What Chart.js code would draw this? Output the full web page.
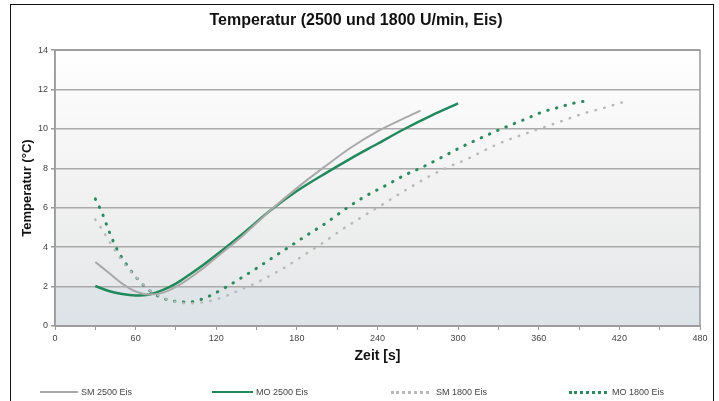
<!DOCTYPE html>
<html>
<head>
<meta charset="utf-8">
<script src="https://cdn.jsdelivr.net/npm/chart.js@4.4.1/dist/chart.umd.min.js"></script>
<style>
  html, body { margin: 0; padding: 0; background: #fff; }
  #wrap { position: relative; width: 719px; height: 401px; overflow: hidden; }
  canvas { position: absolute; left: 0; top: 0; }
  .lg { position: absolute; top: 386px; height: 12px; font: 9px 'Liberation Sans Narrow','Arial Narrow','Liberation Sans',Arial,sans-serif; color: #444; white-space: nowrap; }
  .lg .s { position: absolute; top: 6px; }
  .lg .t { position: absolute; top: 0; line-height: 12px; }
</style>
</head>
<body>
<div id="wrap">
  <canvas id="c" width="719" height="401"></canvas>
  <div id="legend"></div>
</div>
<script>
// ---- data ----
const seriesNames = ['SM 2500 Eis', 'MO 2500 Eis', 'SM 1800 Eis', 'MO 1800 Eis'];

const sm2500Time = [30,40,50,60,70,80,90,100,110,120,140,160,180,200,220,240,260,272];
const sm2500Temp = [3.25,2.7,2.15,1.75,1.6,1.68,1.98,2.42,2.92,3.48,4.6,5.85,7.0,8.05,9.05,9.88,10.55,10.93];

const mo2500Time = [30,40,50,60,70,80,90,100,110,120,140,160,180,200,220,240,260,280,300];
const mo2500Temp = [2.03,1.78,1.62,1.55,1.6,1.82,2.15,2.6,3.08,3.6,4.7,5.85,6.85,7.7,8.5,9.25,10.0,10.68,11.3];

const sm1800Time = [30,35,40,45,50,60,70,80,90,100,110,120,130,140,150,160,170,188,200,213,230,243,267,280,293,306,314,330,354,375,395,410,422];
const sm1800Temp = [5.4,4.9,4.35,3.8,3.3,2.5,1.85,1.45,1.22,1.15,1.2,1.35,1.6,1.9,2.2,2.55,2.93,3.72,4.25,4.87,5.6,6.14,7.15,7.65,8.08,8.45,8.72,9.25,9.86,10.35,10.82,11.1,11.35];

const mo1800Time = [30,35,40,45,50,55,60,70,80,90,100,110,120,130,140,150,160,175,190,200,217,230,248,260,273,288,300,310,334,350,363,375,387,395];
const mo1800Temp = [6.45,5.75,4.85,4.05,3.45,2.95,2.5,1.82,1.42,1.25,1.22,1.38,1.7,2.08,2.5,2.93,3.38,4.05,4.72,5.15,5.98,6.55,7.2,7.65,8.05,8.57,9.0,9.33,10.06,10.5,10.87,11.1,11.33,11.42];

const xTickValues = [0,60,120,180,240,300,360,420,480];
const yTickValues = [0,2,4,6,8,10,12,14];

// ---- styles ----
const styles = [
  { color: '#a9a9a9', width: 2, dash: [] },
  { color: '#22895c', width: 2.5, dash: [] },
  { color: '#b8b8b8', width: 2.5, dash: [0.5, 8.5] },
  { color: '#2b8a60', width: 3, dash: [0.5, 8.5] }
];

function pts(t, v) { return t.map((x, i) => ({ x: x, y: v[i] })); }
const allData = [pts(sm2500Time, sm2500Temp), pts(mo2500Time, mo2500Temp), pts(sm1800Time, sm1800Temp), pts(mo1800Time, mo1800Temp)];

const datasets = allData.map((d, i) => ({
  label: seriesNames[i],
  data: d,
  borderColor: styles[i].color,
  borderWidth: styles[i].width,
  borderDash: styles[i].dash,
  borderCapStyle: styles[i].dash.length ? 'round' : 'butt',
  pointRadius: 0,
  fill: false,
  cubicInterpolationMode: 'monotone'
}));

const bgPlugin = {
  id: 'bg',
  beforeDraw(chart) {
    const { ctx, chartArea: a } = chart;
    ctx.save();
    const g = ctx.createLinearGradient(0, a.top, 0, a.bottom);
    g.addColorStop(0, '#ffffff');
    g.addColorStop(0.45, '#f3f3f3');
    g.addColorStop(0.855, '#e8e9ea');
    g.addColorStop(0.858, '#e0e5e9');
    g.addColorStop(1, '#dde3e8');
    ctx.fillStyle = g;
    ctx.fillRect(a.left, a.top, a.right - a.left, a.bottom - a.top);
    ctx.restore();
  },
  afterDraw(chart) {
    const { ctx, chartArea: a } = chart;
    ctx.save();
    ctx.strokeStyle = '#9a9a9a';
    ctx.lineWidth = 1.5;
    ctx.strokeRect(a.left, a.top, a.right - a.left, a.bottom - a.top);
    ctx.strokeStyle = '#111';
    ctx.lineWidth = 1;
    ctx.strokeRect(10.5, 4.5, 703, 430);
    ctx.restore();
  }
};

const narrow = "'Liberation Sans Narrow','Arial Narrow','Liberation Sans',Arial,sans-serif";

new Chart(document.getElementById('c'), {
  type: 'line',
  data: { datasets: datasets },
  plugins: [bgPlugin],
  options: {
    responsive: false,
    animation: false,
    layout: { padding: { left: 12, right: 19, top: 0, bottom: 30 } },
    plugins: {
      legend: { display: false },
      tooltip: { enabled: false },
      title: {
        display: true,
        text: 'Temperatur (2500 und 1800 U/min, Eis)',
        color: '#111',
        font: { family: narrow, size: 16, weight: 'bold' },
        padding: { top: 11, bottom: 20 }
      }
    },
    scales: {
      x: {
        type: 'linear',
        min: 0, max: 480,
        afterBuildTicks(s) { s.ticks = []; for (let v = 0; v <= 480; v += 30) s.ticks.push({ value: v }); },
        afterFit(s) { s.height = 45; },
        ticks: {
          stepSize: 30,
          autoSkip: false,
          maxRotation: 0,
          padding: 3,
          color: '#444',
          font: { family: narrow, size: 9 },
          callback: (v) => xTickValues.includes(v) ? String(v) : ''
        },
        grid: { drawOnChartArea: false, drawTicks: true, tickLength: 4, tickColor: '#999', lineWidth: 1 },
        border: { display: true, color: '#9a9a9a', width: 1.5 },
        title: {
          display: true, text: 'Zeit [s]', color: '#111',
          font: { family: narrow, size: 14, weight: 'bold' },
          padding: { top: 0, bottom: 6 }
        }
      },
      y: {
        type: 'linear',
        min: 0, max: 14,
        afterBuildTicks(s) { s.ticks = yTickValues.map(v => ({ value: v })); },
        afterFit(s) { s.width = 43; },
        ticks: {
          stepSize: 2,
          padding: 3,
          color: '#444',
          font: { family: narrow, size: 9 }
        },
        grid: { color: '#aaaaaa', lineWidth: 1.5, drawTicks: true, tickLength: 4, tickColor: '#999' },
        border: { display: true, color: '#9a9a9a', width: 1.5 },
        title: {
          display: true, text: 'Temperatur (°C)', color: '#111',
          font: { family: narrow, size: 13, weight: 'bold' },
          padding: { top: 8, bottom: 0 }
        }
      }
    }
  }
});

// ---- HTML legend ----
const legendPos = [
  { sx: 40, sw: 38, tx: 81 },
  { sx: 212, sw: 41, tx: 256 },
  { sx: 391, sw: 38, tx: 436 },
  { sx: 569, sw: 38, tx: 612 }
];
const lg = document.getElementById('legend');
seriesNames.forEach((name, i) => {
  const st = styles[i];
  const p = legendPos[i];
  const item = document.createElement('div');
  item.className = 'lg';
  item.style.left = '0px';
  const s = document.createElement('div');
  s.className = 's';
  s.style.left = p.sx + 'px';
  s.style.width = p.sw + 'px';
  if (st.dash.length) {
    s.style.height = '0';
    s.style.borderTop = Math.round(st.width) + 'px dotted ' + st.color;
    s.style.top = (6 - st.width / 2) + 'px';
  } else {
    s.style.height = st.width + 'px';
    s.style.background = st.color;
    s.style.top = (6 - st.width / 2) + 'px';
  }
  const t = document.createElement('div');
  t.className = 't';
  t.style.left = p.tx + 'px';
  t.textContent = name;
  item.appendChild(s);
  item.appendChild(t);
  lg.appendChild(item);
});
</script>
</body>
</html>
